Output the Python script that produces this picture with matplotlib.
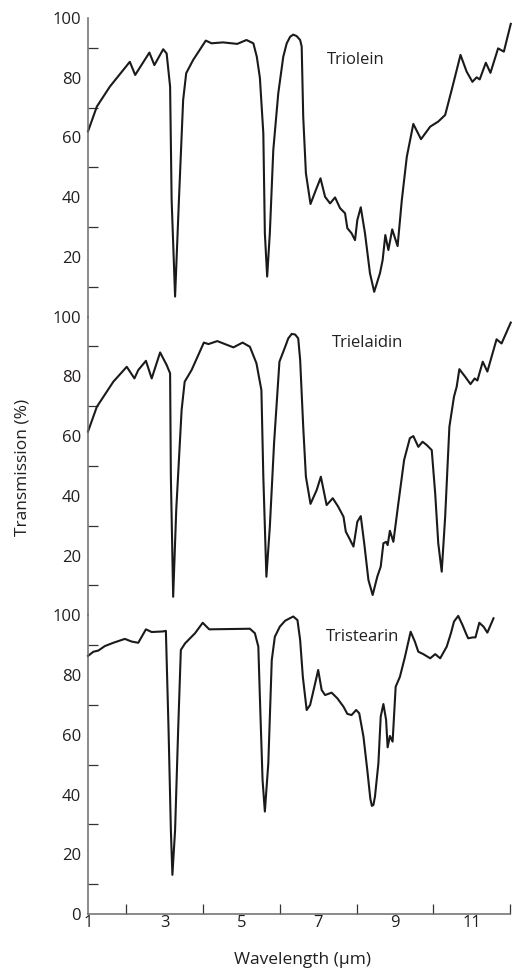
import numpy as np
import matplotlib.pyplot as plt
from matplotlib.ticker import FixedLocator, NullFormatter

plt.rcParams['font.family'] = ['Open Sans', 'DejaVu Sans']

##---------- data (wavelength in um, transmission in %)
triolein_x = [1.00, 1.23, 1.57, 2.09, 2.23, 2.60, 2.73, 2.96, 3.05, 3.14, 3.18, 3.27, 3.37, 3.48,
              3.56, 3.74, 4.07, 4.22, 4.52, 4.89, 5.13, 5.31, 5.40, 5.48, 5.57, 5.61, 5.67, 5.74,
              5.83, 5.96, 6.09, 6.18, 6.27, 6.35, 6.44, 6.53, 6.57, 6.61, 6.68, 6.80, 6.94, 7.06, 7.18, 7.31, 7.44,
              7.57, 7.70, 7.76, 7.87, 7.96, 8.02, 8.11, 8.22, 8.35, 8.46, 8.61, 8.68, 8.75, 8.83,
              8.93, 9.07, 9.18, 9.31, 9.48, 9.68, 9.92, 10.13, 10.31, 10.48, 10.71, 10.87, 11.02,
              11.13, 11.21, 11.37, 11.49, 11.69, 11.84, 12.02]
triolein_y = [62, 70.3, 77, 85.3, 80.9, 88.4, 84.2, 89.5, 88.1, 77, 39, 6.7, 39, 72.5,
              81.5, 85.9, 92.4, 91.5, 91.8, 91.3, 92.6, 91.5, 87, 80, 61.4, 27.9, 13.4, 28,
              55.8, 74.8, 87, 91.5, 93.7, 94.4, 93.9, 92.6, 90.4, 66.9, 48, 37.7, 42.4, 46.3, 40.1, 37.9, 39.9,
              36.3, 34.6, 29.6, 27.9, 25.6, 32.3, 36.6, 27.9, 14.5, 8.3, 14.5, 18.9, 27.3, 22.3,
              29.2, 23.6, 39, 53.5, 64.5, 59.4, 63.6, 65.3, 67.5, 75.9, 87.6, 82, 78.6,
              80.1, 79.4, 85, 81.6, 89.8, 88.7, 98]

trielaidin_x = [1.00, 1.23, 1.66, 2.01, 2.21, 2.31, 2.51, 2.66, 2.88, 3.05, 3.14, 3.16, 3.22, 3.30,
                3.44, 3.52, 3.70, 4.02, 4.14, 4.37, 4.79, 5.03, 5.22, 5.39, 5.52, 5.57, 5.65, 5.74,
                5.85, 5.99, 6.14, 6.22, 6.31, 6.40, 6.48, 6.53, 6.61, 6.68, 6.80, 6.96, 7.07, 7.22, 7.38, 7.52,
                7.66, 7.72, 7.81, 7.92, 8.02, 8.11, 8.20, 8.31, 8.42, 8.54, 8.63, 8.70, 8.77, 8.81,
                8.87, 8.96, 9.09, 9.24, 9.39, 9.48, 9.61, 9.72, 9.83, 9.96, 10.05, 10.13, 10.22,
                10.31, 10.42, 10.54, 10.61, 10.68, 10.83, 10.97, 11.08, 11.15, 11.29, 11.41, 11.65,
                11.78, 12.02]
trielaidin_y = [61.5, 69.8, 78.2, 83.2, 79.3, 82.1, 85.2, 79.3, 88, 83.8, 81, 46.4, 6.2, 35.3,
                68.7, 78.2, 82.1, 91.3, 90.8, 91.8, 89.7, 91.3, 89.9, 84.4, 75.4, 46.4, 12.9, 29.7,
                57.6, 84.9, 89.9, 92.7, 94.2, 94.0, 92.7, 85.5, 63.1, 46.4, 37.3, 41.9, 46.4, 36.9, 39.2, 36.4,
                33, 28, 25.8, 23, 31.3, 33.2, 24.1, 11.8, 6.8, 12.9, 16.3, 24.1, 24.6, 23.5,
                28.3, 24.6, 37.5, 52, 59.3, 60, 56.4, 58.1, 57, 55.3, 40.8, 24.1, 14.6,
                33, 63.1, 73.2, 76.5, 82.4, 79.9, 77.4, 79.3, 78.6, 84.9, 81.6, 92.4,
                91, 98]

tristearin_x = [1.00, 1.14, 1.27, 1.44, 1.66, 1.96, 2.14, 2.31, 2.51, 2.66, 2.96, 3.03, 3.10, 3.16,
                3.20, 3.27, 3.35, 3.42, 3.53, 3.79, 3.99, 4.16, 5.22, 5.35, 5.44, 5.48, 5.55, 5.61,
                5.70, 5.79, 5.87, 6.00, 6.14, 6.35, 6.46, 6.53, 6.60, 6.70, 6.79, 6.87, 6.94, 7.00,
                7.09, 7.18, 7.35, 7.50, 7.66, 7.76, 7.87, 7.99, 8.07, 8.18, 8.28, 8.36, 8.40, 8.44, 8.48, 8.57,
                8.63, 8.70, 8.77, 8.81, 8.87, 8.94, 9.02, 9.13, 9.26, 9.41, 9.52, 9.61, 9.74, 9.92,
                10.05, 10.18, 10.35, 10.46, 10.54, 10.65, 10.76, 10.85, 10.91, 11.03, 11.10, 11.20,
                11.31, 11.41, 11.57]
tristearin_y = [86.4, 87.8, 88.2, 89.7, 90.8, 92.1, 91.2, 90.8, 95.3, 94.4, 94.6, 94.8, 61.6, 28.1,
                13.1, 28.1, 61.6, 88.4, 90.6, 94, 97.5, 95.3, 95.5, 94, 89.5, 72.7, 44.9, 34.3,
                50.5, 85, 92.8, 96.2, 98.2, 99.6, 98.4, 91.7, 79.4, 68.3, 70, 74.4, 78.3, 81.7,
                75, 73.3, 74.1, 72.2, 69.4, 67, 66.6, 68.3, 67.2, 59.4, 48.2, 38.5, 36.2, 36.5, 39.3, 50.5,
                66.1, 70.3, 65, 55.8, 59.6, 57.7, 76.1, 79.4, 86, 94.5, 91.2, 87.8, 87, 85.6,
                87, 85.6, 89.5, 94, 97.9, 99.8, 96.8, 94, 92.3, 92.6, 92.6, 97.5,
                96.2, 94.2, 99]

names = ['Triolein', 'Trielaidin', 'Tristearin']
label_pos = [(7.22, 86), (7.36, 91.3), (7.2, 92.6)]
series = [(triolein_x, triolein_y), (trielaidin_x, trielaidin_y), (tristearin_x, tristearin_y)]

x_ticks = [2, 4, 6, 8, 10, 12]
x_labels = [1, 3, 5, 7, 9, 11]
y_ticks = [10, 30, 50, 70, 90]
y_labels = [20, 40, 60, 80, 100]
##----------

spine_col = '#6b6b6b'
txt_col = '#231f20'
fs = 12

fig = plt.figure(figsize=(5.12, 9.71), dpi=100)
left, width = 88/512, 422/512
h = 298.7/971
bottom0 = 1 - 914/971

for i, (name, (xs, ys)) in enumerate(zip(names, series)):
    ax = fig.add_axes([left, bottom0 + (2 - i)*h, width, h])
    ax.plot(xs, ys, color='#1a1a1a', lw=1.5, solid_joinstyle='round', clip_on=False)
    ax.set_xlim(1, 12)
    ax.set_ylim(0, 100)
    ax.patch.set_visible(False)
    for s in ['top', 'right', 'bottom']:
        ax.spines[s].set_visible(False)
    ax.spines['left'].set_color(spine_col)
    ax.spines['left'].set_linewidth(1.1)

    yl = list(y_labels) if i < 2 else [0] + list(y_labels)
    ax.yaxis.set_major_locator(FixedLocator(yl))
    ax.set_yticklabels([str(v) for v in yl])
    ax.yaxis.set_minor_locator(FixedLocator(y_ticks))
    ax.tick_params(axis='y', which='major', length=0, pad=5, labelsize=fs, labelcolor=txt_col)
    ax.tick_params(axis='y', which='minor', direction='in', length=7, width=0.9, color='#333333')

    ax.text(label_pos[i][0], label_pos[i][1], name, fontsize=fs, color=txt_col, va='center', ha='left')

    if i < 2:
        ax.xaxis.set_visible(False)
    else:
        ax.spines['bottom'].set_visible(True)
        ax.spines['bottom'].set_color(spine_col)
        ax.spines['bottom'].set_linewidth(1.1)
        ax.xaxis.set_major_locator(FixedLocator(x_ticks))
        ax.xaxis.set_major_formatter(NullFormatter())
        ax.xaxis.set_minor_locator(FixedLocator(x_labels))
        ax.set_xticklabels([str(v) for v in x_labels], minor=True)
        ax.tick_params(axis='x', which='major', direction='in', length=7, width=0.9, color='#333333')
        ax.tick_params(axis='x', which='minor', length=0, pad=1, labelsize=fs, labelcolor=txt_col)

fig.text(303/512, 1 - 960/971, 'Wavelength (\u03bcm)', ha='center', va='center', fontsize=12.5, color=txt_col)
fig.text(23/512, 1 - 467/971, 'Transmission (%)', ha='center', va='center', rotation=90,
         fontsize=12.5, color=txt_col)

fig.savefig('out.png', dpi=100)
